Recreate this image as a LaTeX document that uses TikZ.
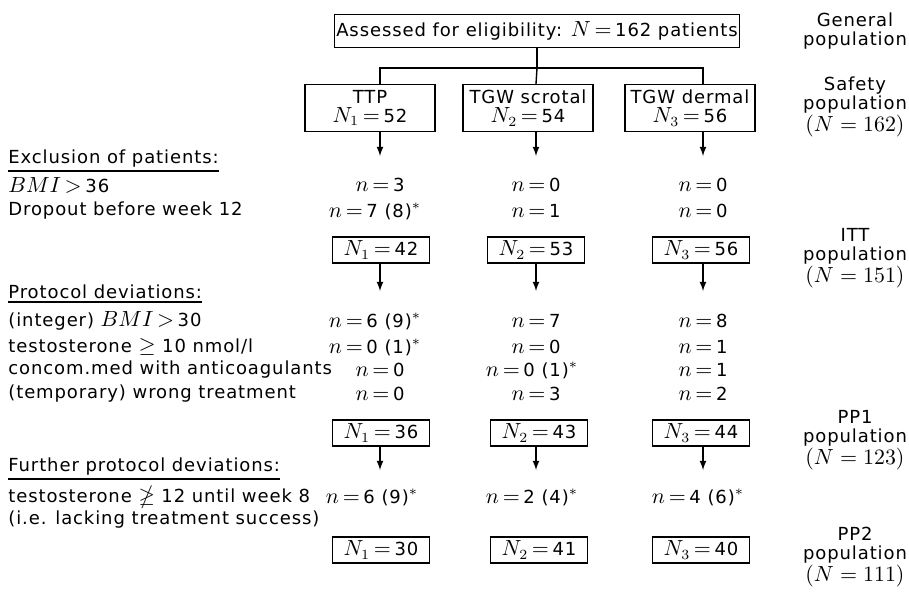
\documentclass[tikz,border=0pt]{standalone}
\usepackage{amssymb}
\usepackage{fontspec}
\setmainfont[LetterSpace=5]{DejaVu Sans}
\usepackage{tikz}
\usetikzlibrary{arrows}
\DeclareMathSizes{9}{10.5}{7.5}{6}
\newcommand{\nval}[1]{$n\mkern-2mu=\mkern3mu$#1}
\newcommand{\Nval}[2]{$N_{#1}\mkern-2mu=\mkern3mu$#2}
\newcommand{\fnm}{$^{*}$}
\tikzset{
	box/.style={draw, line width=0.7pt, align=center, inner sep=1pt},
	grp/.style={box, minimum width=65pt, minimum height=23.5pt},
	cnt/.style={box, minimum width=48.5pt, minimum height=13pt},
	lbl/.style={anchor=west, inner sep=0pt, align=left},
	head/.style={lbl, inner ysep=1.5pt},
	pop/.style={align=center, inner sep=0pt},
	flow/.style={->, >=latex, line width=0.6pt},
	link/.style={line width=0.7pt}
}
\begin{document}
\begin{tikzpicture}[x=0.5pt, y=-0.5pt, font=\fontsize{9}{9.6}\selectfont]
			\useasboundingbox (0,0) rectangle (909,591);
			% columns
			\coordinate (c1) at (380,0);
			\coordinate (c2) at (536,0);
			\coordinate (c3) at (703,0);
			\coordinate (split) at (537,68);
			% top of the tree
			\node[box, minimum width=202.5pt, minimum height=16.5pt] (elig) at (537,31) {Assessed for eligibility: $N\mkern-2mu=\mkern3mu$162 patients};
			\node[grp] (ttp) at (370,108) {TTP\\\Nval{1}{52}};
			\node[grp] (tgws) at (528,108) {TGW scrotal\\\Nval{2}{54}};
			\node[grp] (tgwd) at (690,108) {TGW dermal\\\Nval{3}{56}};
			\draw[link] (elig.south) -- (split);
			\draw[link] (c1 |- ttp.north) |- (split) -| (c3 |- tgwd.north);
			\draw[link] (split) -- (c2 |- tgws.north);
			% exclusion
			\node[head] (excl) at (8,159) {Exclusion of patients:};
			\draw[line width=1pt] (excl.south west) -- (excl.south east);
			\node[lbl] (bmi36) at (8,185) {$BMI\mkern-2mu>\mkern3mu$36};
			\node[lbl] (drop) at (8,211) {Dropout before week 12};
			\node (e11) at (380,185) {\nval{3}};
			\node (e12) at (536,185) {\nval{0}};
			\node (e13) at (703,185) {\nval{0}};
			\node (e21) at (375,211) {\nval{7 (8)\fnm}};
			\node (e22) at (536,211) {\nval{1}};
			\node (e23) at (703,211) {\nval{0}};
			\coordinate (t11) at (380,156);
			\coordinate (t12) at (536,156);
			\coordinate (t13) at (703,156);
			\draw[flow] (ttp.south -| t11) -- (t11);
			\draw[flow] (tgws.south -| t12) -- (t12);
			\draw[flow] (tgwd.south -| t13) -- (t13);
			% ITT
			\node[cnt] (itt1) at (381,250) {\Nval{1}{42}};
			\node[cnt] (itt2) at (536,250) {\Nval{2}{53}};
			\node[cnt] (itt3) at (701,250) {\Nval{3}{56}};
			% protocol deviations
			\node[head] (prot) at (8,292) {Protocol deviations:};
			\draw[line width=1pt] (prot.south west) -- (prot.south east);
			\node[lbl] (bmi30) at (8,321) {(integer) $BMI\mkern-2mu>\mkern3mu$30};
			\node[lbl] (testo) at (8,347) {testosterone $\geq$ 10 nmol/l};
			\node[lbl] (med) at (8,370) {concom.med with anticoagulants};
			\node[lbl] (wrong) at (8,394) {(temporary) wrong treatment};
			\node (p11) at (375,321) {\nval{6 (9)\fnm}};
			\node (p12) at (536,321) {\nval{7}};
			\node (p13) at (703,321) {\nval{8}};
			\node (p21) at (375,347) {\nval{0 (1)\fnm}};
			\node (p22) at (536,347) {\nval{0}};
			\node (p23) at (703,347) {\nval{1}};
			\node (p31) at (380,370) {\nval{0}};
			\node (p32) at (532,370) {\nval{0 (1)\fnm}};
			\node (p33) at (703,370) {\nval{1}};
			\node (p41) at (380,394) {\nval{0}};
			\node (p42) at (536,394) {\nval{3}};
			\node (p43) at (703,394) {\nval{2}};
			\coordinate (t21) at (380,291);
			\coordinate (t22) at (536,291);
			\coordinate (t23) at (703,291);
			\draw[flow] (itt1.south -| t21) -- (t21);
			\draw[flow] (itt2.south -| t22) -- (t22);
			\draw[flow] (itt3.south -| t23) -- (t23);
			% PP1
			\node[cnt] (pp11) at (381,433) {\Nval{1}{36}};
			\node[cnt] (pp12) at (539,433) {\Nval{2}{43}};
			\node[cnt] (pp13) at (701,433) {\Nval{3}{44}};
			% further deviations
			\node[head] (furth) at (8,467) {Further protocol deviations:};
			\draw[line width=1pt] (furth.south west) -- (furth.south east);
			\node[lbl] (succ) at (8,507) {testosterone $\ngeq$ 12 until week 8\\(i.e. lacking treatment success)};
			\node (f11) at (372,497) {\nval{6 (9)\fnm}};
			\node (f12) at (532,497) {\nval{2 (4)\fnm}};
			\node (f13) at (698,497) {\nval{4 (6)\fnm}};
			\coordinate (t31) at (380,470);
			\coordinate (t32) at (536,470);
			\coordinate (t33) at (703,470);
			\draw[flow] (pp11.south -| t31) -- (t31);
			\draw[flow] (pp12.south -| t32) -- (t32);
			\draw[flow] (pp13.south -| t33) -- (t33);
			% PP2
			\node[cnt] (pp21) at (381,550) {\Nval{1}{30}};
			\node[cnt] (pp22) at (539,550) {\Nval{2}{41}};
			\node[cnt] (pp23) at (701,550) {\Nval{3}{40}};
			% populations
			\node[pop] (genpop) at (855,31) {General\\population};
			\node[pop] (safpop) at (855,107) {Safety\\population\\$(N=162)$};
			\node[pop] (ittpop) at (855,258) {ITT\\population\\$(N=151)$};
			\node[pop] (pp1pop) at (855,440) {PP1\\population\\$(N=123)$};
			\node[pop] (pp2pop) at (855,557) {PP2\\population\\$(N=111)$};
		\end{tikzpicture}
\end{document}
